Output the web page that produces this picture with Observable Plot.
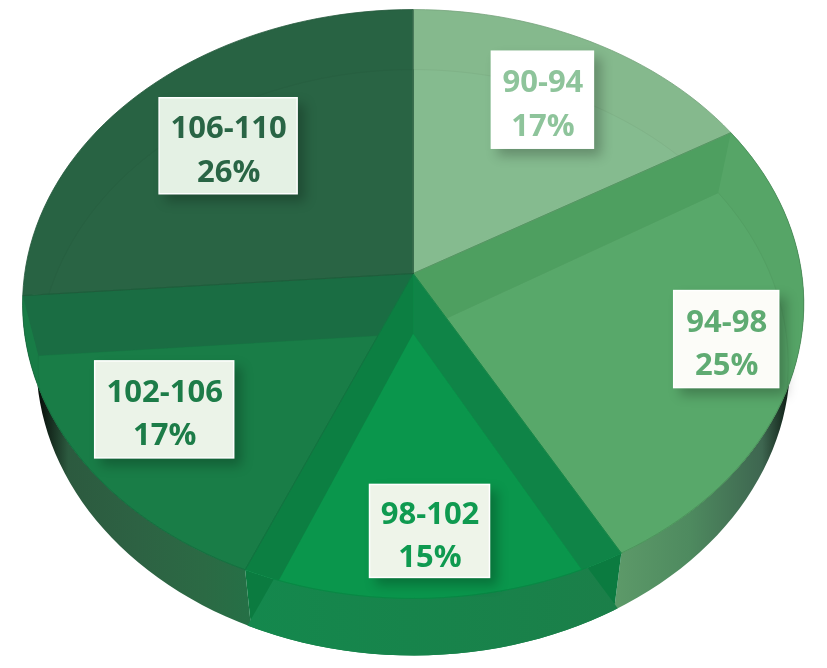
<!DOCTYPE html>
<html>
<head>
<meta charset="utf-8">
<style>html,body{margin:0;padding:0;background:#fff}svg{display:block}</style>
<script src="https://cdn.jsdelivr.net/npm/d3@7"></script>
<script src="https://cdn.jsdelivr.net/npm/@observablehq/plot@0.6"></script>
</head>
<body>
<div id="chart"></div>
<script>
// Data
const categories = ["90-94", "94-98", "98-102", "102-106", "106-110"];
const shares = [16.5, 25.4, 14.5, 17.4, 26.2];   // measured from the slice boundaries
const percentLabels = ["17%", "25%", "15%", "17%", "26%"];

// Styles
const ringColors  = ["#85b98d", "#56a567", "#0a964c", "#187c46", "#286343"];
const plateColors = ["#85bb8f", "#58a86a", "#0a964c", "#197d47", "#296444"];
const bandStart   = ["#85b98d", "#4e9f60", "#0f8447", "#187c46", "#286343"];
const bandEnd     = ["#85b98d", "#56a567", "#0c7f42", "#1a6d43", "#286343"];
const textColors  = ["#8ec49b", "#5fab72", "#0f9a50", "#1c7c48", "#296545"];
const boxColors   = ["#ffffff", "#fcfcf8", "#eef4e9", "#ebf3e8", "#e4f1e4"];

// Layout of the tilted disc
const cx = 412.7, cy = 273, R = 388.5, S = 291.3, tilt = -0.1036;
const plateShift = 60, plateScale = 0.96, wallDepth = 57, wallScale = 0.965;
const labelAngle = [29.3, 105.7, 177.2, 233.8, 312.6];
const labelRadius = [0.727, 0.819, 0.812, 0.756, 0.676];
const boxW = [102, 105, 120, 139, 138];
const boxH = [97, 97, 93, 97, 96];

const rad = d => d * Math.PI / 180;
function project(deg, r = 1, sx = 1, dy = 0) {
  const u = r * Math.sin(rad(deg)), v = -r * Math.cos(rad(deg));
  const k = 1 + tilt * v;
  return {x: cx + sx * R * u / k, y: cy + dy + S * v / k};
}
function arc(a0, a1, sx = 1, dy = 0) {
  const n = Math.max(2, Math.ceil(Math.abs(a1 - a0) / 2));
  return d3.range(n + 1).map(i => project(a0 + (a1 - a0) * i / n, 1, sx, dy));
}
function wedge(a0, a1, sx = 1, dy = 0) {
  return [{x: cx, y: cy + dy}, ...arc(a0, a1, sx, dy)];
}
// Clip a polygon by a convex polygon
function clip(subject, clipper) {
  let area = 0;
  clipper.forEach((p, i) => { const q = clipper[(i + 1) % clipper.length]; area += p.x * q.y - q.x * p.y; });
  const sign = Math.sign(area) || 1;
  const side = (p, a, b) => sign * ((b.x - a.x) * (p.y - a.y) - (b.y - a.y) * (p.x - a.x));
  let out = subject;
  clipper.forEach((a, i) => {
    const b = clipper[(i + 1) % clipper.length];
    if (a.x === b.x && a.y === b.y) return;
    const input = out; out = [];
    input.forEach((p, j) => {
      const q = input[(j + 1) % input.length];
      const sp = side(p, a, b), sq = side(q, a, b);
      if (sp >= 0) out.push(p);
      if ((sp >= 0) !== (sq >= 0)) {
        const t = sp / (sp - sq);
        out.push({x: p.x + t * (q.x - p.x), y: p.y + t * (q.y - p.y)});
      }
    });
  });
  return out;
}
const poly = (pts, fill, extra = {}) =>
  Plot.line(pts, {x: "x", y: "y", fill, stroke: "none", curve: "linear", ...extra});

// Slice angles from the shares
const total = d3.sum(shares);
let running = 0;
const slices = shares.map((s, i) => {
  const a0 = running / total * 360; running += s;
  return {i, a0, a1: running / total * 360};
});
const wallOf = s => [...arc(s.a0, s.a1), ...arc(s.a1, s.a0, wallScale, wallDepth)];

const marks = [];
marks.push(() => d3.create("svg:defs").html(`
  <linearGradient id="wallRight" x1="0" x2="1" y1="0" y2="0">
    <stop offset="0" stop-color="#5d9a69"/><stop offset=".4" stop-color="#4e8a5f"/>
    <stop offset=".78" stop-color="#3e6650"/><stop offset=".93" stop-color="#0c1a12"/>
    <stop offset="1" stop-color="#000"/>
  </linearGradient>
  <linearGradient id="wallLeft" x1="0" x2="1" y1="0" y2="0">
    <stop offset="0" stop-color="#000"/><stop offset=".08" stop-color="#0a120d"/>
    <stop offset=".2" stop-color="#2c5a3f"/><stop offset=".5" stop-color="#2d6243"/>
    <stop offset=".8" stop-color="#2b6a44"/><stop offset="1" stop-color="#257046"/>
  </linearGradient>
  <linearGradient id="wallMid" x1="0" x2="1" y1="0" y2="0">
    <stop offset="0" stop-color="#14884d"/><stop offset="1" stop-color="#1b7f49"/>
  </linearGradient>`).node());

// Side wall
marks.push(poly(wallOf(slices[1]), "url(#wallRight)"));
marks.push(poly(wallOf(slices[3]), "url(#wallLeft)"));
marks.push(poly(wallOf(slices[2]), "#0b7b40"));
marks.push(poly(clip(wedge(slices[2].a0, slices[2].a1, 1, plateShift),
  [{x: 0, y: 0}, {x: 827, y: 0}, ...arc(slices[2].a0 - 20, slices[2].a1 + 20, wallScale, wallDepth)]), "url(#wallMid)"));

// Top face
slices.forEach(s => {
  const top = wedge(s.a0, s.a1);
  marks.push(poly(top, ringColors[s.i]));
  const shifted = wedge(s.a0, s.a1, plateScale, plateShift);
  marks.push(poly(clip(shifted, top), plateColors[s.i], {
    stroke: d3.color(ringColors[s.i]).darker(0.1).formatHex(), strokeWidth: 1
  }));
  [[s.a0, bandStart], [s.a1, bandEnd]].forEach(([a, colors]) => {
    const strip = [{x: cx, y: cy}, project(a), project(a, 1, plateScale, plateShift), {x: cx, y: cy + plateShift}];
    const band = clip(strip, top);
    if (band.length > 2) marks.push(poly(band, colors[s.i]));
  });
});
// Thin darker edges of the slices
slices.forEach(s => {
  marks.push(Plot.line([...wedge(s.a0, s.a1), {x: cx, y: cy}], {
    x: "x", y: "y", curve: "linear", fill: "none",
    stroke: d3.color(ringColors[s.i]).darker(0.35).formatHex(), strokeWidth: 1, strokeOpacity: 0.8
  }));
});

// Labels
const labels = categories.map((c, i) => {
  const p = project(labelAngle[i], labelRadius[i]);
  return {
    text: c + "\n" + percentLabels[i], x: p.x, y: p.y,
    x1: p.x - boxW[i] / 2, x2: p.x + boxW[i] / 2,
    y1: p.y - boxH[i] / 2, y2: p.y + boxH[i] / 2,
    box: boxColors[i], ink: textColors[i]
  };
});
marks.push(Plot.rect(labels, {
  x1: "x1", x2: "x2", y1: "y1", y2: "y2",
  fill: d => d.box, stroke: "#ffffff", strokeWidth: 1.5,
  imageFilter: "drop-shadow(7px 7px 6px rgba(0,0,0,0.24))"
}));
marks.push(Plot.text(labels, {
  x: "x", y: "y", text: "text", fill: d => d.ink,
  fontFamily: "'Open Sans'", fontWeight: 700, fontSize: 31, lineHeight: 1.39,
  textAnchor: "middle"
}));

const chart = Plot.plot({
  width: 827, height: 668,
  margin: 0,
  style: {background: "#fff", filter: "blur(0.5px)"},
  x: {axis: null, domain: [0, 827], range: [0, 827]},
  y: {axis: null, domain: [0, 668], range: [0, 668]},
  color: {type: "identity"},
  marks
});
document.getElementById("chart").append(chart);
</script>
</body>
</html>
